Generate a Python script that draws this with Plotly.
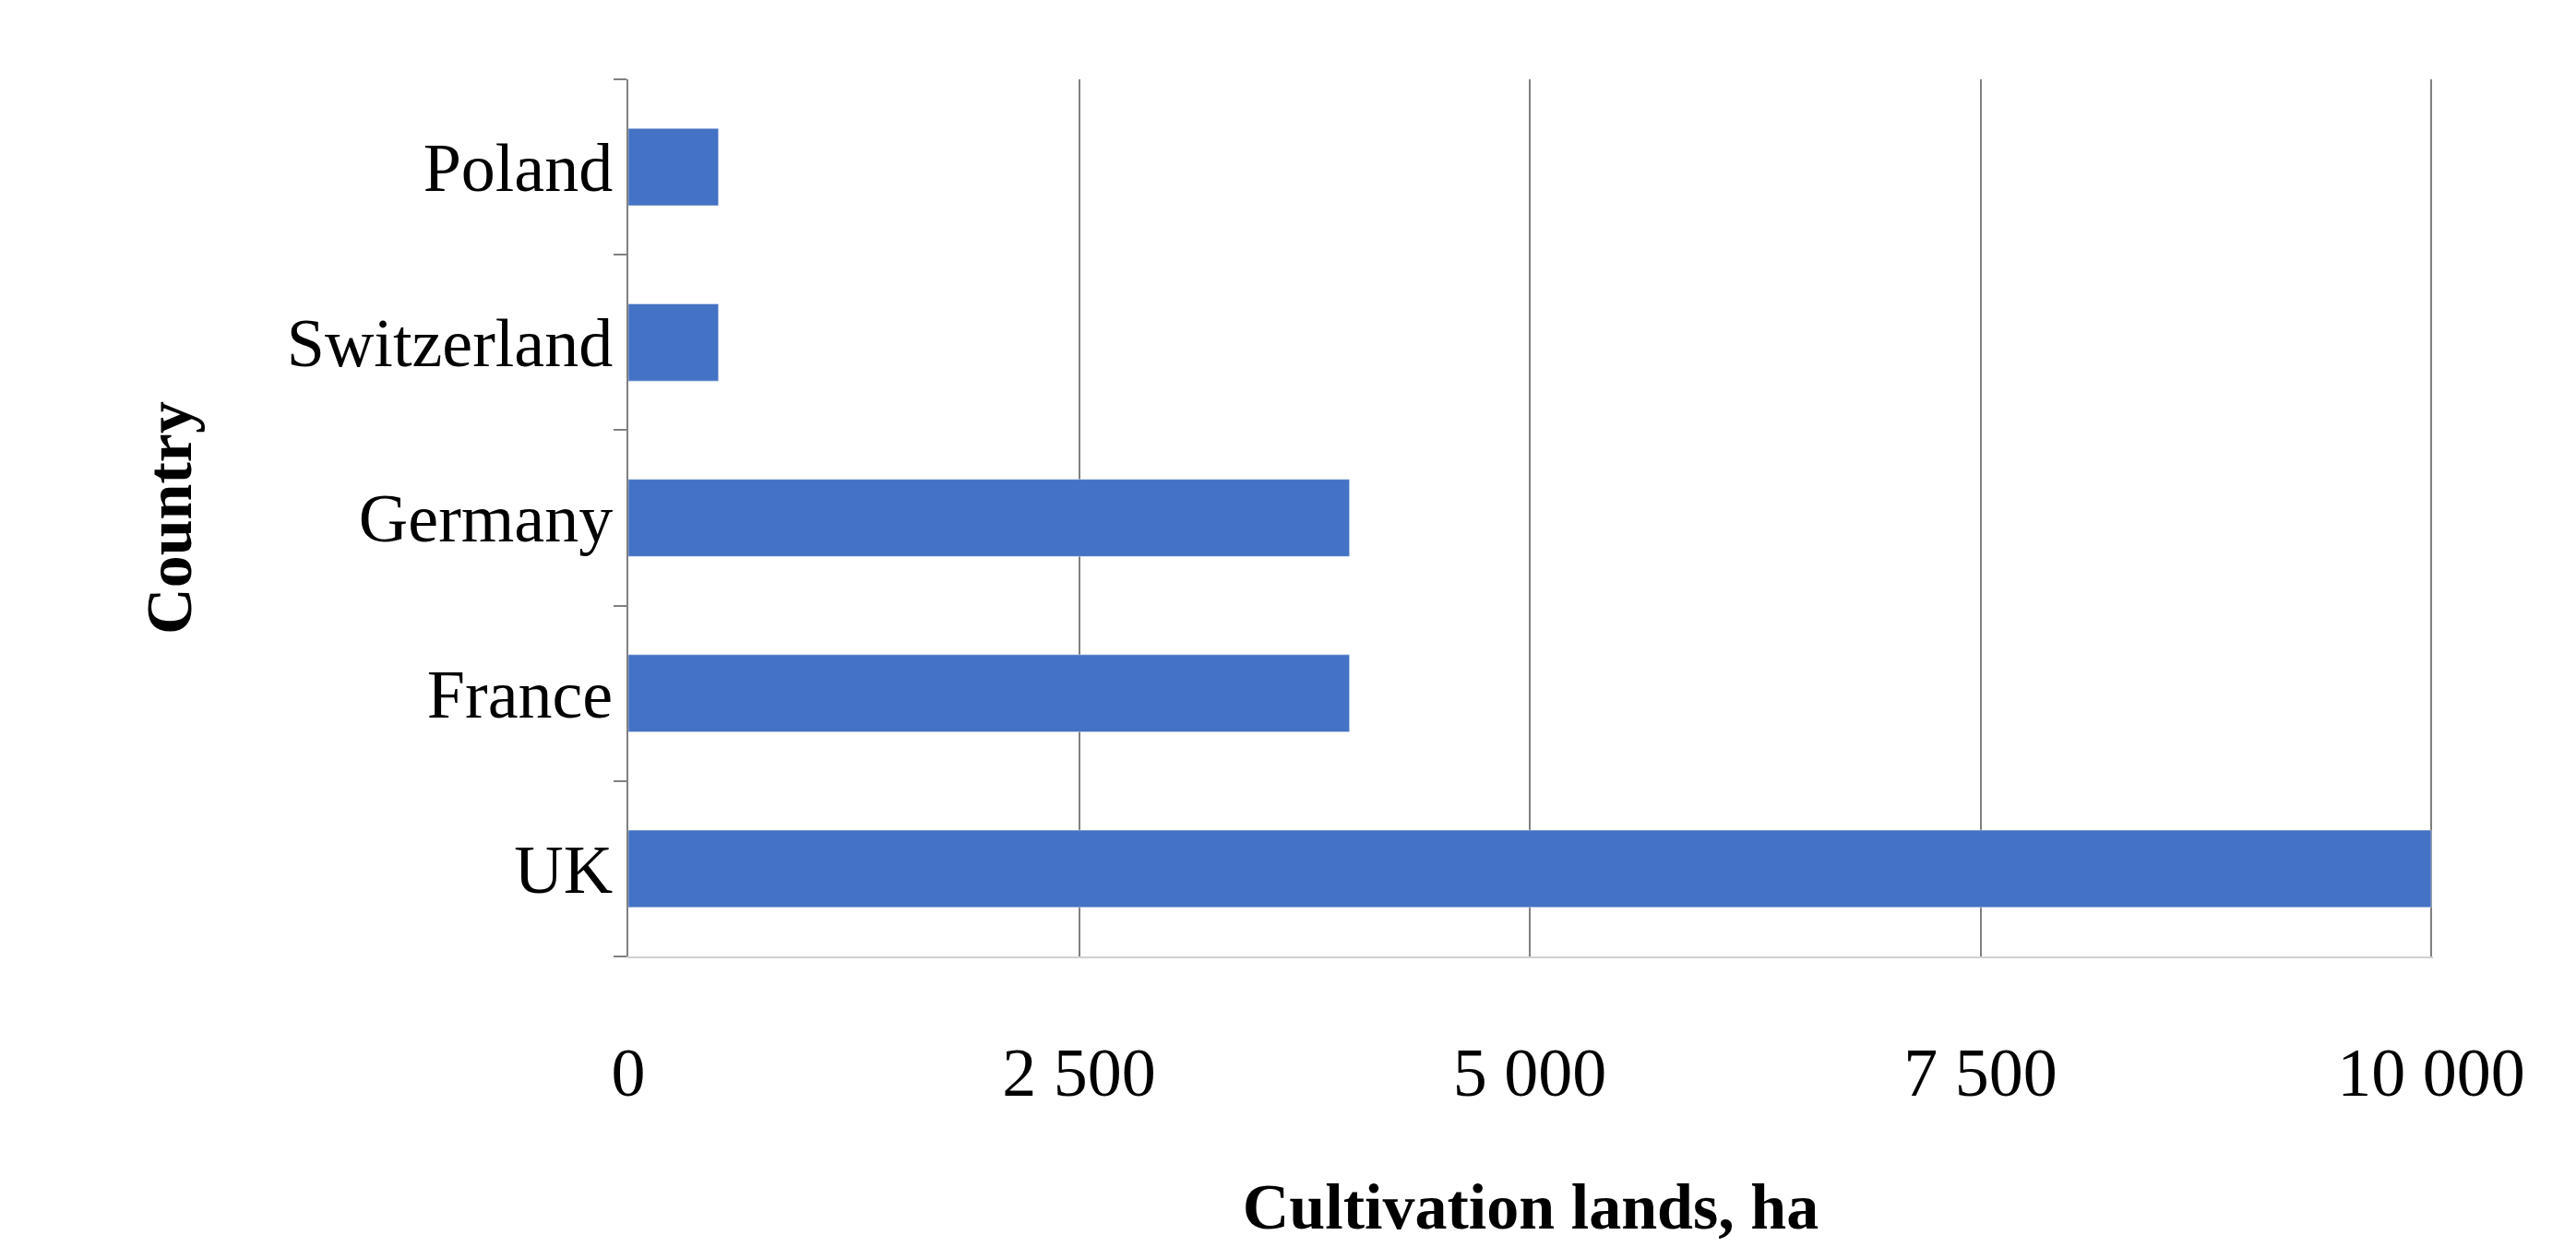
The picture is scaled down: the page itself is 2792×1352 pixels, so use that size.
import plotly.graph_objects as go

countries = ["UK", "France", "Germany", "Switzerland", "Poland"]
values = [10000, 4000, 4000, 500, 500]
tickvals = [0, 2500, 5000, 7500, 10000]

fig = go.Figure(go.Bar(y=countries, x=values, orientation="h", marker_color="#4472C4", width=0.44))
font = "Liberation Serif, DejaVu Serif, serif"
fig.update_layout(
    width=2792, height=1352, paper_bgcolor="white", plot_bgcolor="white",
    margin=dict(l=673, r=163, t=78, b=323), separators=". ",
    font=dict(family=font, color="black", size=74), showlegend=False,
)
fig.update_xaxes(range=[0, 10010], tickvals=tickvals, tickformat=",d", showgrid=True,
                 gridcolor="#808080", gridwidth=2, zeroline=False, ticks="", ticklabelstandoff=60,
                 title=dict(text="<b>Cultivation lands, ha</b>", font=dict(size=70), standoff=80),
                 showline=True, linecolor="#d0d0d0", linewidth=2)
fig.update_yaxes(showline=True, linecolor="#808080", linewidth=2, ticks="outside", tickson="boundaries",
                 ticklen=14, tickcolor="#808080", tickwidth=2, showgrid=False,
                 title=dict(text="<b>Country</b>", font=dict(size=70), standoff=80))
fig.write_html("out.html")
